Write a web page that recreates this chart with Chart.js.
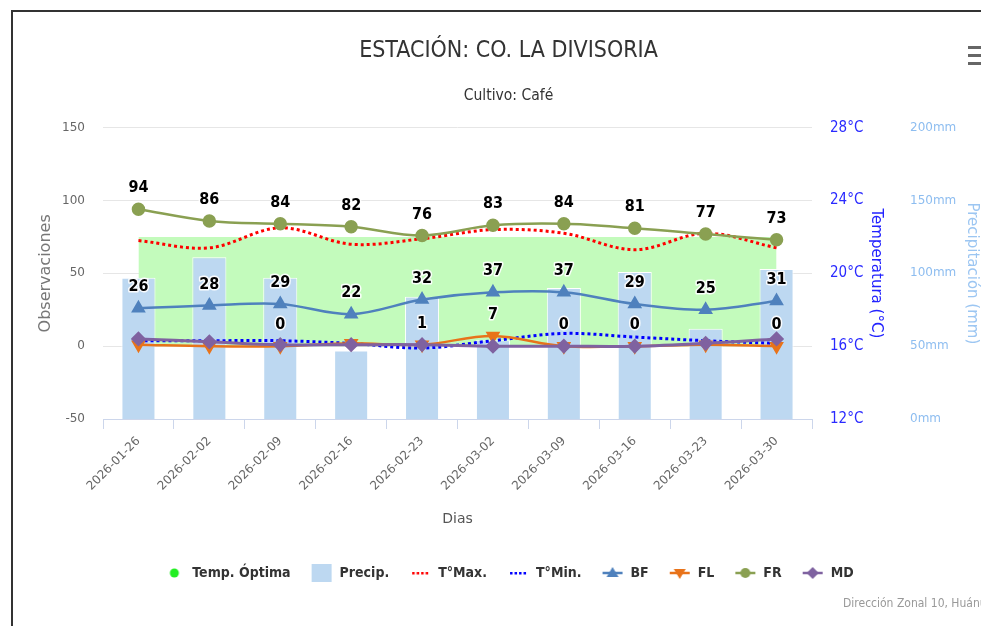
<!DOCTYPE html>
<html>
<head>
<meta charset="utf-8">
<title>Estación CO. La Divisoria</title>
<script src="https://cdn.jsdelivr.net/npm/chart.js@4.4.1/dist/chart.umd.min.js"></script>
<style>
  html, body { margin: 0; padding: 0; background: #fff; overflow: hidden; width: 981px; height: 626px; }
  #frame { position: absolute; left: 11px; top: 10px; width: 1010px; height: 630px;
           border-left: 2px solid #333; border-top: 2px solid #333; }
  #box { position: absolute; left: 0; top: 0; width: 996px; height: 614px; }
</style>
</head>
<body>
<div id="frame"><div id="box"><canvas id="chart"></canvas></div></div>
<script>
// semanas
const categories = ['2026-01-26', '2026-02-02', '2026-02-09', '2026-02-16', '2026-02-23',
                    '2026-03-02', '2026-03-09', '2026-03-16', '2026-03-23', '2026-03-30'];

// precipitacion (mm) y temperaturas (°C)
const precip = [97, 111, 97, 47, 84, 54, 90, 101, 62, 103];
const tMax = [21.8, 21.4, 22.5, 21.6, 21.9, 22.4, 22.2, 21.3, 22.2, 21.4];
const tMin = [16.3, 16.3, 16.3, 16.15, 15.9, 16.3, 16.7, 16.5, 16.3, 16.15];
const tOptMax = [22, 22, 22, 22, 22, 22, 22, 22, 22, 22];
const tOptMin = 16;

// observaciones fenologicas
const bf = [26, 28, 29, 22, 32, 37, 37, 29, 25, 31];
const fl = [1, 0, 0, 2, 1, 7, 0, 0, 1, 0];
const fr = [94, 86, 84, 82, 76, 83, 84, 81, 77, 73];
const md = [5, 3, 1, 1, 1, 0, 0, 0, 2, 5];

// etiquetas visibles de FL (las demas se ocultan por solaparse)
const flShown = [false, false, true, false, true, true, true, true, false, true];

const ticksObs = [-50, 0, 50, 100, 150];
const ticksTemp = [12, 16, 20, 24, 28];
const ticksPrecip = [0, 50, 100, 150, 200];

const NARROW = '"Liberation Sans Narrow", "DejaVu Sans Condensed", sans-serif';
const SANS = '"DejaVu Sans", sans-serif';

const C_BF = '#4f81bd', C_FL = '#e8731a', C_FR = '#8aa052', C_MD = '#7f62a0';

// iconos de la leyenda
function icon(kind, color, marker) {
  const c = document.createElement('canvas');
  c.width = 22; c.height = 18;
  const g = c.getContext('2d');
  g.fillStyle = color; g.strokeStyle = color;
  if (kind === 'circle') {
    g.beginPath(); g.arc(11, 9, 4.5, 0, Math.PI * 2); g.fill();
  } else if (kind === 'box') {
    g.fillRect(1, 0, 20, 18);
  } else if (kind === 'dots') {
    for (let i = 0; i < 4; i++) g.fillRect(3 + i * 4.5, 8, 2.5, 2.5);
  } else {
    g.lineWidth = 2.5;
    g.beginPath(); g.moveTo(1, 9); g.lineTo(21, 9); g.stroke();
    g.beginPath();
    if (marker === 'circle') g.arc(11, 9, 5, 0, Math.PI * 2);
    if (marker === 'up') { g.moveTo(11, 3); g.lineTo(17, 13); g.lineTo(5, 13); }
    if (marker === 'down') { g.moveTo(11, 15); g.lineTo(17, 5); g.lineTo(5, 5); }
    if (marker === 'diamond') { g.moveTo(11, 3); g.lineTo(17, 9); g.lineTo(11, 15); g.lineTo(5, 9); }
    g.closePath(); g.fill();
  }
  return c;
}

const valueLabels = {
  id: 'valueLabels',
  afterDatasetsDraw(chart) {
    const ctx = chart.ctx;
    ctx.save();
    ctx.font = 'bold 16px ' + NARROW;
    ctx.textAlign = 'center';
    ctx.textBaseline = 'middle';
    ctx.lineJoin = 'round';
    chart.data.datasets.forEach((ds, i) => {
      if (!ds.labelShow) return;
      chart.getDatasetMeta(i).data.forEach((pt, j) => {
        if (!ds.labelShow[j]) return;
        const txt = String(ds.data[j]);
        const y = pt.y - 21;
        ctx.lineWidth = 3; ctx.strokeStyle = 'rgba(255,255,255,0.9)';
        ctx.strokeText(txt, pt.x, y);
        ctx.fillStyle = '#000';
        ctx.fillText(txt, pt.x, y);
      });
    });
    ctx.restore();
  }
};

const extras = {
  id: 'extras',
  afterDraw(chart) {
    const ctx = chart.ctx;
    ctx.save();
    // menu
    ctx.fillStyle = '#666';
    [34, 42, 50].forEach(y => ctx.fillRect(955, y, 24, 3));
    // creditos
    ctx.font = '12px ' + NARROW;
    ctx.fillStyle = '#999';
    ctx.textBaseline = 'middle';
    ctx.fillText('Dirección Zonal 10, Huánuco', 830, 592);
    ctx.restore();
  }
};

const ctx = document.getElementById('chart');
new Chart(ctx, {
  data: {
    labels: categories,
    datasets: [
      {
        type: 'line', label: 'Temp. Óptima', data: tOptMax, yAxisID: 'yT',
        fill: { value: tOptMin }, backgroundColor: '#c3fbbc', borderWidth: 0,
        pointRadius: 0, order: 10, legendIcon: icon('circle', '#22ee22')
      },
      {
        type: 'bar', label: 'Precip.', data: precip, yAxisID: 'yP',
        backgroundColor: '#bdd8f1', borderColor: '#fff', borderWidth: 1,
        barPercentage: 0.48, categoryPercentage: 1, order: 8,
        legendIcon: icon('box', '#bdd8f1')
      },
      {
        type: 'line', label: 'T°Max.', data: tMax, yAxisID: 'yT',
        borderColor: '#ff0000', borderWidth: 3, borderDash: [3, 3], tension: 0.35,
        pointRadius: 0, fill: false, order: 2, legendIcon: icon('dots', '#ff0000')
      },
      {
        type: 'line', label: 'T°Min.', data: tMin, yAxisID: 'yT',
        borderColor: '#0000ff', borderWidth: 3, borderDash: [3, 3], tension: 0.35,
        pointRadius: 0, fill: false, order: 2, legendIcon: icon('dots', '#0000ff')
      },
      {
        type: 'line', label: 'BF', data: bf, yAxisID: 'y',
        borderColor: C_BF, backgroundColor: C_BF, borderWidth: 2.5, tension: 0.35,
        pointStyle: 'triangle', pointRadius: 6, fill: false, order: 1,
        labelShow: bf.map(() => true), legendIcon: icon('line', C_BF, 'up')
      },
      {
        type: 'line', label: 'FL', data: fl, yAxisID: 'y',
        borderColor: C_FL, backgroundColor: C_FL, borderWidth: 2.5, tension: 0.35,
        pointStyle: 'triangle', rotation: 180, pointRadius: 6, fill: false, order: 1,
        labelShow: flShown, legendIcon: icon('line', C_FL, 'down')
      },
      {
        type: 'line', label: 'FR', data: fr, yAxisID: 'y',
        borderColor: C_FR, backgroundColor: C_FR, borderWidth: 2.5, tension: 0.35,
        pointStyle: 'circle', pointRadius: 5.5, fill: false, order: 1,
        labelShow: fr.map(() => true), legendIcon: icon('line', C_FR, 'circle')
      },
      {
        type: 'line', label: 'MD', data: md, yAxisID: 'y',
        borderColor: C_MD, backgroundColor: C_MD, borderWidth: 3, tension: 0.35,
        pointStyle: 'rectRot', pointRadius: 5.5, fill: false, order: 0,
        legendIcon: icon('line', C_MD, 'diamond')
      }
    ]
  },
  options: {
    responsive: true,
    maintainAspectRatio: false,
    animation: false,
    events: [],
    layout: { padding: { left: 19, right: 24, top: 0, bottom: 36 } },
    plugins: {
      tooltip: { enabled: false },
      title: {
        display: true, text: 'ESTACIÓN: CO. LA DIVISORIA', color: '#333',
        font: { family: NARROW, size: 23, weight: 'normal' },
        padding: { top: 25.5, bottom: 8 }
      },
      subtitle: {
        display: true, text: 'Cultivo: Café', color: '#333',
        font: { family: NARROW, size: 15.5 },
        padding: { top: 14, bottom: 22 }
      },
      legend: {
        position: 'bottom',
        onClick: null,
        labels: {
          usePointStyle: true, pointStyleWidth: 22, padding: 20,
          color: '#333', font: { family: NARROW, size: 14, weight: 'bold' },
          sort: (a, b) => a.datasetIndex - b.datasetIndex,
          generateLabels(chart) {
            return chart.data.datasets.map((ds, i) => ({
              text: ds.label, datasetIndex: i, pointStyle: ds.legendIcon,
              fillStyle: '#fff', strokeStyle: '#fff', lineWidth: 0, hidden: false,
              fontColor: '#333'
            }));
          }
        }
      }
    },
    scales: {
      x: {
        offset: true,
        grid: { drawOnChartArea: false, color: '#ccd6eb', tickLength: 10, offset: true },
        border: { color: '#ccd6eb' },
        ticks: { color: '#666', font: { family: SANS, size: 12 }, minRotation: 45, maxRotation: 45, padding: 5 },
        title: { display: true, text: 'Dias', color: '#555', font: { family: SANS, size: 14 }, padding: { top: 4, bottom: 18.5 } },
        afterFit(s) { s.height = 127; }
      },
      y: {
        position: 'left', min: -50, max: 150,
        afterBuildTicks(s) { s.ticks = ticksObs.map(v => ({ value: v })); },
        grid: { color: '#e6e6e6', drawTicks: false },
        border: { display: false },
        ticks: { color: '#666', font: { family: SANS, size: 12 }, padding: 18 },
        title: { display: true, text: 'Observaciones', color: '#777', font: { family: SANS, size: 16 }, padding: { top: 4, bottom: 4 } },
        afterFit(s) { s.width = 71; }
      },
      yT: {
        position: 'right', min: 12, max: 28, weight: 0,
        afterBuildTicks(s) { s.ticks = ticksTemp.map(v => ({ value: v })); },
        grid: { display: false, drawTicks: false },
        border: { display: false },
        ticks: { color: '#2a2aff', font: { family: NARROW, size: 15 }, padding: 18, callback: v => v + '°C' },
        title: { display: true, text: 'Temperatura (°C)', color: '#2222ff', font: { family: SANS, size: 15 }, padding: { top: 4, bottom: 4 } },
        afterFit(s) { s.width = 77; }
      },
      yP: {
        position: 'right', min: 0, max: 200, weight: 1,
        afterBuildTicks(s) { s.ticks = ticksPrecip.map(v => ({ value: v })); },
        grid: { display: false, drawTicks: false },
        border: { display: false },
        ticks: { color: '#8dbdf0', font: { family: SANS, size: 12 }, padding: 21, callback: v => v + 'mm' },
        title: { display: true, text: 'Precipitación (mm)', color: '#9cc6f2', font: { family: SANS, size: 15 }, padding: { top: 4, bottom: 4 } },
        afterFit(s) { s.width = 96; }
      }
    }
  },
  plugins: [valueLabels, extras]
});
</script>
</body>
</html>
